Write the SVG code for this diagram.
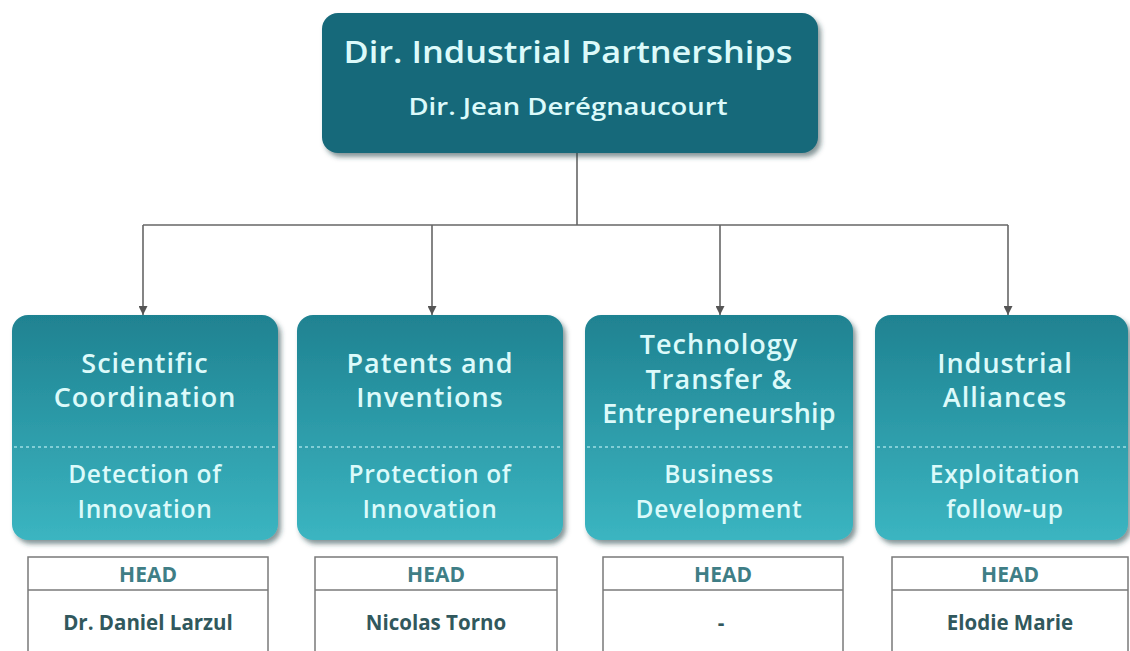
<svg xmlns="http://www.w3.org/2000/svg" width="1130" height="651" viewBox="0 0 1130 651">
<defs>
<linearGradient id="ng" x1="0" y1="0" x2="0" y2="1">
<stop offset="0" stop-color="#1f8291"/>
<stop offset="1" stop-color="#3bb5c1"/>
</linearGradient>
<filter id="sh" x="-10%" y="-10%" width="125%" height="130%">
<feDropShadow dx="3" dy="4" stdDeviation="2.5" flood-color="#1a3f44" flood-opacity="0.55"/>
</filter>
<marker id="ah" viewBox="0 0 10 10" refX="10" refY="5" markerWidth="9" markerHeight="9" markerUnits="userSpaceOnUse" orient="auto">
<path d="M0,0 L10,5 L0,10 z" fill="#555"/>
</marker>
<style>
.t{font-family:"Open Sans","Noto Sans",sans-serif;fill:#dcfafa;text-anchor:middle;font-weight:600}
.a{font-size:27px;letter-spacing:1px}
.b{font-size:24.5px;letter-spacing:0.7px}
.h{font-family:"Open Sans","Noto Sans",sans-serif;text-anchor:middle;font-weight:700;font-size:21px;fill:#3f7e86}
.n{font-family:"Open Sans","Noto Sans",sans-serif;text-anchor:middle;font-weight:700;font-size:20.5px;fill:#31585d}
.node{fill:url(#ng);filter:url(#sh)}
.dash{stroke:#9ddde3;stroke-width:1.5;stroke-dasharray:3 3}
.hb{fill:#fff;stroke:#7a7a7a;stroke-width:1.5}
.c{fill:none;stroke:#666;stroke-width:1.6}
</style>
</defs>
<rect width="1130" height="651" fill="#fff"/>
<g id="connectors">
<path class="c" d="M577,153 V225"/>
<path class="c" d="M143,225 H1008"/>
<path class="c" d="M143,225 V315" marker-end="url(#ah)"/>
<path class="c" d="M432,225 V315" marker-end="url(#ah)"/>
<path class="c" d="M720,225 V315" marker-end="url(#ah)"/>
<path class="c" d="M1008,225 V315" marker-end="url(#ah)"/>
</g>
<g id="top">
<rect x="322" y="13" width="496" height="140" rx="16" fill="#17697a" filter="url(#sh)"/>
<text class="t" x="568" y="63" font-size="30" textLength="449" lengthAdjust="spacingAndGlyphs">Dir. Industrial Partnerships</text>
<text class="t" x="568" y="115" font-size="23" textLength="319" lengthAdjust="spacingAndGlyphs">Dir. Jean Derégnaucourt</text>
</g>
<g id="n1">
<rect class="node" x="12" y="315" width="266" height="225" rx="16"/>
<line class="dash" x1="14" y1="447" x2="276" y2="447"/>
<text class="t a" x="145" y="373">Scientific</text>
<text class="t a" x="145" y="407">Coordination</text>
<text class="t b" x="145" y="483">Detection of</text>
<text class="t b" x="145" y="518">Innovation</text>
</g>
<g id="n2">
<rect class="node" x="297" y="315" width="266" height="225" rx="16"/>
<line class="dash" x1="299" y1="447" x2="561" y2="447"/>
<text class="t a" x="430" y="373">Patents and</text>
<text class="t a" x="430" y="407">Inventions</text>
<text class="t b" x="430" y="483">Protection of</text>
<text class="t b" x="430" y="518">Innovation</text>
</g>
<g id="n3">
<rect class="node" x="585" y="315" width="268" height="225" rx="16"/>
<line class="dash" x1="587" y1="447" x2="851" y2="447"/>
<text class="t a" x="719" y="354">Technology</text>
<text class="t a" x="719" y="389">Transfer &amp;</text>
<text class="t a" x="719" y="423" style="letter-spacing:0.2px">Entrepreneurship</text>
<text class="t b" x="719" y="483">Business</text>
<text class="t b" x="719" y="518">Development</text>
</g>
<g id="n4">
<rect class="node" x="875" y="315" width="253" height="225" rx="16"/>
<line class="dash" x1="877" y1="447" x2="1126" y2="447"/>
<text class="t a" x="1005" y="373">Industrial</text>
<text class="t a" x="1005" y="407">Alliances</text>
<text class="t b" x="1005" y="483">Exploitation</text>
<text class="t b" x="1005" y="518">follow-up</text>
</g>
<g id="h1">
<rect class="hb" x="28" y="557" width="240" height="110"/>
<line class="hb" x1="28" y1="590" x2="268" y2="590"/>
<text class="h" x="148" y="582">HEAD</text>
<text class="n" x="148" y="630">Dr. Daniel Larzul</text>
</g>
<g id="h2">
<rect class="hb" x="315" y="557" width="242" height="110"/>
<line class="hb" x1="315" y1="590" x2="557" y2="590"/>
<text class="h" x="436" y="582">HEAD</text>
<text class="n" x="436" y="630">Nicolas Torno</text>
</g>
<g id="h3">
<rect class="hb" x="603" y="557" width="240" height="110"/>
<line class="hb" x1="603" y1="590" x2="843" y2="590"/>
<text class="h" x="723" y="582">HEAD</text>
<text class="n" x="721" y="630">-</text>
</g>
<g id="h4">
<rect class="hb" x="892" y="557" width="236" height="110"/>
<line class="hb" x1="892" y1="590" x2="1128" y2="590"/>
<text class="h" x="1010" y="582">HEAD</text>
<text class="n" x="1010" y="630">Elodie Marie</text>
</g>
</svg>
